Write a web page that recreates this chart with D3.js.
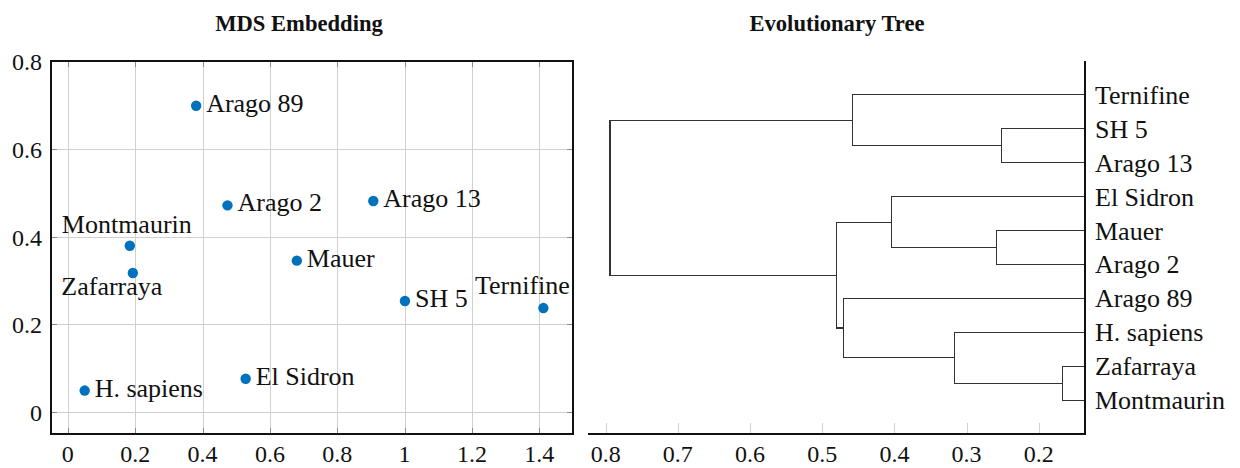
<!DOCTYPE html>
<head>
  <meta charset="utf-8">
  <script src="https://d3js.org/d3.v7.min.js"></script>
  <style>
body { margin:0; background:#fff; }
text { font-family: "Liberation Serif", "Times New Roman", serif; fill:#111; }
.title { font-weight:bold; font-size:22.6px; text-anchor:middle; }
.tick-label { font-size:24px; }
.lbl { font-size:26px; }
.grid { stroke:#d0d0d0; stroke-width:1; shape-rendering:crispEdges; }
.minor { stroke:#8a8a8a; stroke-width:1; shape-rendering:crispEdges; }
.frame { fill:none; stroke:#111; stroke-width:1.3; shape-rendering:crispEdges; }
.link { fill:none; stroke:#333; stroke-width:1.1; shape-rendering:crispEdges; }
  </style>
</head>
<body>
<script>
// MDS embedding
const names = ['Arago 89', 'Arago 2', 'Montmaurin', 'Zafarraya', 'H. sapiens', 'El Sidron', 'Mauer', 'Arago 13', 'SH 5', 'Ternifine']
const mdsX = [0.381, 0.474, 0.184, 0.193, 0.050, 0.528, 0.680, 0.907, 1.001, 1.412]
const mdsY = [0.698, 0.471, 0.379, 0.317, 0.049, 0.076, 0.345, 0.481, 0.253, 0.237]
const labelSide = ['e', 'e', 'n', 'sw', 'e', 'e', 'e', 'e', 'e', 'nw']
const xTicks = [0, 0.2, 0.4, 0.6, 0.8, 1, 1.2, 1.4]
const yTicks = [0, 0.2, 0.4, 0.6, 0.8]

// tree: leaves top to bottom, merges as [child, child, height], new nodes numbered from 10
const leafOrder = ['Ternifine', 'SH 5', 'Arago 13', 'El Sidron', 'Mauer', 'Arago 2', 'Arago 89', 'H. sapiens', 'Zafarraya', 'Montmaurin']
const merges = [
	[8, 9, 0.167],
	[1, 2, 0.252],
	[4, 5, 0.259],
	[7, 10, 0.317],
	[3, 12, 0.404],
	[0, 11, 0.458],
	[6, 13, 0.470],
	[14, 16, 0.480],
	[15, 17, 0.794]
]
const treeTicks = [0.8, 0.7, 0.6, 0.5, 0.4, 0.3, 0.2]

const svg = d3.select('body').append('svg')
	.attr('width', 1240)
	.attr('height', 468)

const fmt = d => String(d)

// ---------- left panel ----------
const L = { left: 51, right: 573, top: 61, bottom: 434 }
const x = d3.scaleLinear().domain([-0.05, 1.5]).range([L.left, L.right])
const y = d3.scaleLinear().domain([-0.05, 0.8]).range([L.bottom, L.top])

const left = svg.append('g')

left.selectAll('.gx').data(xTicks).enter().append('line')
	.attr('class', 'grid')
	.attr('x1', d => Math.round(x(d)) + 0.5).attr('x2', d => Math.round(x(d)) + 0.5)
	.attr('y1', L.top).attr('y2', L.bottom)
left.selectAll('.gy').data(yTicks).enter().append('line')
	.attr('class', 'grid')
	.attr('y1', d => Math.round(y(d)) + 0.5).attr('y2', d => Math.round(y(d)) + 0.5)
	.attr('x1', L.left).attr('x2', L.right)

// short tick marks on every side
const tl = 6
xTicks.forEach(d => {
	const px = Math.round(x(d)) + 0.5
	left.append('line').attr('class', 'minor').attr('x1', px).attr('x2', px).attr('y1', L.bottom).attr('y2', L.bottom - tl)
	left.append('line').attr('class', 'minor').attr('x1', px).attr('x2', px).attr('y1', L.top).attr('y2', L.top + tl)
})
yTicks.forEach(d => {
	const py = Math.round(y(d)) + 0.5
	left.append('line').attr('class', 'minor').attr('y1', py).attr('y2', py).attr('x1', L.left).attr('x2', L.left + tl)
	left.append('line').attr('class', 'minor').attr('y1', py).attr('y2', py).attr('x1', L.right).attr('x2', L.right - tl)
})

left.append('rect').attr('class', 'frame')
	.attr('x', L.left).attr('y', L.top)
	.attr('width', L.right - L.left).attr('height', L.bottom - L.top)

left.selectAll('.xl').data(xTicks).enter().append('text')
	.attr('class', 'tick-label')
	.attr('x', d => x(d)).attr('y', 462)
	.attr('text-anchor', 'middle')
	.text(fmt)
left.selectAll('.yl').data(yTicks).enter().append('text')
	.attr('class', 'tick-label')
	.attr('x', 42).attr('y', d => y(d) + 9)
	.attr('text-anchor', 'end')
	.text(fmt)

const pts = names.map((n, i) => ({ name: n, x: mdsX[i], y: mdsY[i], side: labelSide[i] }))

left.selectAll('.pt').data(pts).enter().append('circle')
	.attr('cx', d => x(d.x)).attr('cy', d => y(d.y))
	.attr('r', 5.2)
	.attr('fill', '#0072bd')

const place = {
	e: { anchor: 'start', dx: 10, dy: 6 },
	n: { anchor: 'middle', dx: -3, dy: -13 },
	sw: { anchor: 'middle', dx: -21, dy: 22 },
	nw: { anchor: 'middle', dx: -21, dy: -14 }
}
left.selectAll('.lbl').data(pts).enter().append('text')
	.attr('class', 'lbl')
	.attr('x', d => x(d.x) + place[d.side].dx)
	.attr('y', d => y(d.y) + place[d.side].dy)
	.attr('text-anchor', d => place[d.side].anchor)
	.text(d => d.name)

svg.append('text').attr('class', 'title').attr('x', 299).attr('y', 31).text('MDS Embedding')

// ---------- right panel ----------
const R = { left: 588, right: 1085, top: 61, bottom: 434 }
const tx = d3.scaleLinear().domain([0.8245, 0.136]).range([R.left, R.right]).clamp(true)
const ty = d3.scaleLinear().domain([-1, leafOrder.length]).range([R.top, R.bottom])

// build nested tree from the merge list
const nodes = leafOrder.map((n, i) => ({ name: n, height: 0, idx: i }))
merges.forEach(([a, b, h]) => nodes.push({ height: h, children: [nodes[a], nodes[b]] }))
const root = d3.hierarchy(nodes[nodes.length - 1])
root.eachAfter(d => {
	d.py = d.children ? d3.mean(d.children, c => c.py) : ty(d.data.idx)
	d.px = tx(d.data.height)
})

const right = svg.append('g')

right.selectAll('.tk').data(treeTicks).enter().append('line')
	.attr('class', 'grid')
	.attr('stroke', '#bbb')
	.attr('x1', d => Math.round(tx(d)) + 0.5).attr('x2', d => Math.round(tx(d)) + 0.5)
	.attr('y1', R.bottom).attr('y2', R.bottom - 11)

right.selectAll('.link').data(root.links()).enter().append('path')
	.attr('class', 'link')
	.attr('d', l => `M${l.source.px},${l.source.py}V${l.target.py}H${l.target.px}`)

right.append('path').attr('class', 'frame')
	.attr('d', `M${R.left},${R.bottom}H${R.right}V${R.top}`)

right.selectAll('.tl').data(treeTicks).enter().append('text')
	.attr('class', 'tick-label')
	.attr('x', d => tx(d)).attr('y', 462)
	.attr('text-anchor', 'middle')
	.text(fmt)

right.selectAll('.leaf').data(root.leaves()).enter().append('text')
	.attr('class', 'lbl')
	.attr('x', R.right + 10)
	.attr('y', d => d.py + 9)
	.text(d => d.data.name)

svg.append('text').attr('class', 'title').attr('x', 837).attr('y', 31).text('Evolutionary Tree')
</script>
</body>
